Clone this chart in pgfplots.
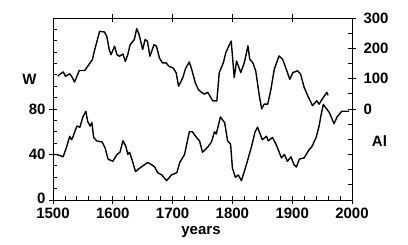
\documentclass[border=0pt]{standalone}
\usepackage{pgfplots}
\pgfplotsset{compat=1.18}
\usepackage{fontspec}
\setmainfont{Liberation Sans}
\begin{document}
\begin{tikzpicture}
\path[use as bounding box] (-53pt,-45pt) rectangle (355pt,200pt);
\pgfplotsset{
  every axis/.append style={
    scale only axis, width=299pt, height=182pt,
    at={(0pt,0pt)}, anchor=south west,
    xmin=1500, xmax=2000,
    axis line style={line width=0.9pt},
    tick style={line width=0.9pt, black},
    tick align=center,
    major tick length=8pt, minor tick length=4pt,
    tick label style={font=\fontsize{15}{15}\selectfont\bfseries},
    /pgf/number format/assume math mode=true,
    /pgf/number format/1000 sep={},
  }
}
\begin{axis}[
  ymin=0, ymax=160,
  xtick={1500,1600,...,2000}, minor xtick={1520,1540,...,1980},
  ytick={0,40,80}, yticklabels={\raisebox{3pt}{0},40,80}, minor ytick={10,20,...,150},
  xtick pos=left, ytick pos=left,
  every minor x tick/.append style={yshift=2pt},
  every minor y tick/.append style={xshift=2pt},
  xticklabel style={yshift=0pt},
]
\addplot[black, line width=1.4pt, line join=round] coordinates {
(1500,40) (1506,40) (1512,39) (1517,38) (1523,47) (1528,56) (1531,53) (1533,55) (1540,65) (1545,64)
(1550,73) (1555,78) (1558,69) (1562,65) (1565,68) (1568,55) (1573,52) (1582,51)
(1587,46) (1592,36) (1600,34) (1607,40) (1612,42) (1617,52) (1622,47) (1625,40)
(1628,42) (1633,34) (1638,25) (1645,28) (1653,31) (1658,33) (1665,31) (1670,29)
(1675,24) (1682,22) (1690,17) (1698,22) (1707,24) (1712,33) (1720,40) (1728,60)
(1733,60) (1740,55) (1745,52) (1750,42) (1758,46) (1765,51) (1770,60) (1773,58)
(1780,73) (1787,68) (1792,52) (1797,49) (1800,28) (1805,20) (1810,22) (1815,17)
(1820,25) (1825,34) (1832,47) (1838,60) (1842,64) (1850,53) (1857,56) (1860,52)
(1867,55) (1873,49) (1882,37) (1887,40) (1892,34) (1898,38) (1903,31) (1907,29)
(1912,36) (1920,37) (1928,44) (1933,47) (1940,55) (1945,65) (1948,74) (1952,84)
(1962,77) (1970,67) (1975,73) (1983,78) (1995,78)
};
\end{axis}
\begin{axis}[
  ymin=-300, ymax=300,
  xtick={1600,1700,1800,1900}, xticklabels={},
  ytick={0,100,200,300}, minor ytick={-250,-200,...,250},
  xtick pos=right, ytick pos=right, yticklabel pos=right,
  every minor y tick/.append style={xshift=-2pt},
  yticklabel style={xshift=4pt},
]
\addplot[black, line width=1.4pt, line join=round] coordinates {
(1508,108) (1511,114) (1517,122) (1521,108) (1528,116) (1531,108) (1536,89) (1544,127)
(1553,127) (1558,141) (1566,163) (1569,190) (1578,256) (1586,254) (1590,239) (1594,196)
(1597,179) (1603,207) (1607,179) (1611,174) (1617,181) (1621,157) (1625,179) (1629,212)
(1636,229) (1640,265) (1644,245) (1650,196) (1654,229) (1658,223) (1662,174) (1669,212)
(1673,207) (1678,168) (1683,152) (1689,152) (1694,141) (1701,135) (1706,119) (1710,75)
(1717,103) (1722,135) (1728,155) (1732,130) (1738,86) (1743,64) (1749,54) (1753,49)
(1759,55) (1767,27) (1774,27) (1778,120) (1785,153) (1789,186) (1798,224) (1801,153)
(1803,104) (1807,158) (1814,120) (1820,153) (1826,208) (1829,164) (1834,153) (1839,126)
(1845,44) (1849,0) (1853,16) (1859,16) (1864,60) (1870,131) (1878,175) (1884,164)
(1891,126) (1896,98) (1901,120) (1909,126) (1914,115) (1920,71) (1926,44) (1934,11)
(1941,27) (1945,16) (1952,38) (1958,55) (1960,45)
};
\end{axis}
\node[font=\fontsize{15}{15}\selectfont\bfseries] at (-23.5pt,121pt) {W};
\node[font=\fontsize{15}{15}\selectfont\bfseries] at (326.5pt,59pt) {Al};
\node[font=\fontsize{15}{15}\selectfont\bfseries, anchor=base] at (148pt,-35pt) {years};
\end{tikzpicture}
\end{document}
